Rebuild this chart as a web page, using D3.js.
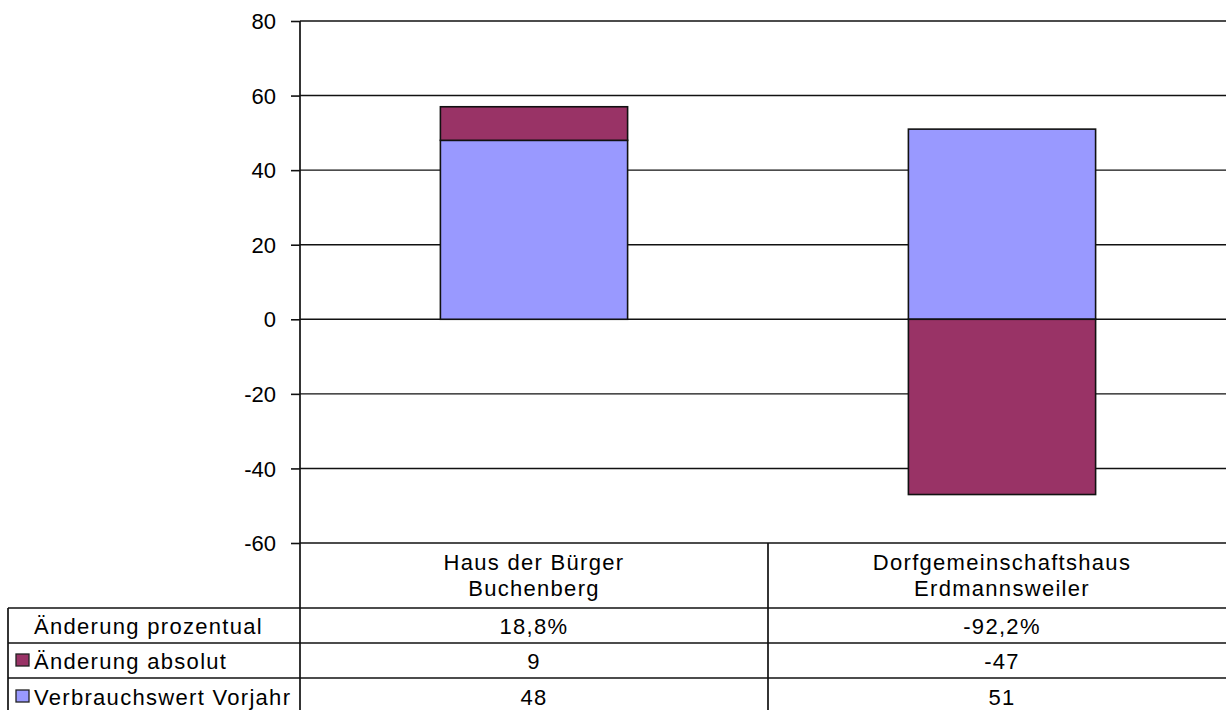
<!DOCTYPE html>
<html>
<head>
<meta charset="utf-8">
<script src="https://cdn.jsdelivr.net/npm/d3@7"></script>
<style>
  html, body { margin: 0; padding: 0; background: #fff; }
  svg { display: block; }
  text { font-family: "Liberation Sans", Arial, sans-serif; fill: #000; }
</style>
</head>
<body>
<svg id="chart" width="1226" height="710"></svg>
<script>
// Categories (two lines each in the table header)
const categories = ["Haus der Bürger\nBuchenberg", "Dorfgemeinschaftshaus\nErdmannsweiler"];
// Plotted series
const verbrauchVorjahr = [48, 51];
const aenderungAbsolut = [9, -47];
// Table-only series
const aenderungProzentual = ["18,8%", "-92,2%"];
// Axis ticks
const yTicks = [-60, -40, -20, 0, 20, 40, 60, 80];

const seriesNames = ["Verbrauchswert Vorjahr", "Änderung absolut"];
const seriesColors = ["#9999FF", "#993366"];

const W = 1226, H = 710;
const plot = { left: 300, right: 1236, top: 21, bottom: 543 };

const svg = d3.select("#chart");

const y = d3.scaleLinear().domain([-60, 80]).range([plot.bottom, plot.top]);
const x = d3.scaleBand().domain(categories).range([plot.left, plot.right]).paddingInner(0).paddingOuter(0);
const barW = x.bandwidth() / 2.5;

// Gridlines
svg.append("g").selectAll("line").data(yTicks).join("line")
  .attr("x1", plot.left).attr("x2", plot.right)
  .attr("y1", d => y(d)).attr("y2", d => y(d))
  .attr("stroke", "#111").attr("stroke-width", 1.4);

// Stacked bars (positive and negative parts stacked separately)
const rows = categories.map((c, i) => ({ cat: c, v: verbrauchVorjahr[i], a: aenderungAbsolut[i] }));
const stack = d3.stack().keys(["v", "a"]).offset(d3.stackOffsetDiverging);
const stacked = stack(rows);

const barsG = svg.append("g");
stacked.forEach((layer, si) => {
  barsG.selectAll(null).data(layer).join("rect")
    .attr("x", d => x(d.data.cat) + (x.bandwidth() - barW) / 2)
    .attr("width", barW)
    .attr("y", d => y(Math.max(d[0], d[1])))
    .attr("height", d => Math.abs(y(d[0]) - y(d[1])))
    .attr("fill", seriesColors[si])
    .attr("stroke", "#111").attr("stroke-width", 1.6);
});

// Y axis (plain hyphen for negative labels)
const yAxis = d3.axisLeft(y).tickValues(yTicks).tickSize(9).tickPadding(15).tickFormat(d => String(d));
const ag = svg.append("g").attr("transform", `translate(${plot.left},0)`).call(yAxis);
ag.select(".domain").remove();
ag.selectAll(".tick line").attr("stroke", "#111").attr("stroke-width", 1.6);
ag.selectAll(".tick text").style("font-size", "22px").style("font-family", "'Liberation Sans', Arial, sans-serif").attr("fill", "#000").attr("dy", "0.35em");

// Data table
const tableTop = plot.bottom;
const headerBottom = 608;
const rowLines = [608, 643, 678];
const tableBottom = 716;
const tableLeft = 8;

const tg = svg.append("g");
const line = (x1, y1, x2, y2) => tg.append("line")
  .attr("x1", x1).attr("y1", y1).attr("x2", x2).attr("y2", y2)
  .attr("stroke", "#111").attr("stroke-width", 1.7);

// Vertical axis line continues through the table
line(plot.left, plot.top, plot.left, tableBottom);
// Column dividers
categories.forEach(c => line(x(c) + x.bandwidth(), tableTop, x(c) + x.bandwidth(), tableBottom));
// Horizontal row lines
rowLines.forEach(yy => line(tableLeft, yy, plot.right, yy));
line(tableLeft, headerBottom, tableLeft, tableBottom);

const textStyle = sel => sel.style("font-size", "22px").style("letter-spacing", "1.3px");

// Header (category names)
categories.forEach(c => {
  const parts = c.split("\n");
  parts.forEach((p, k) => {
    tg.append("text").call(textStyle)
      .attr("x", x(c) + x.bandwidth() / 2).attr("y", 570 + k * 26)
      .attr("text-anchor", "middle").text(p);
  });
});

// Table rows
const tableRows = [
  { name: "Änderung prozentual", values: aenderungProzentual, color: null },
  { name: "Änderung absolut", values: aenderungAbsolut, color: seriesColors[1] },
  { name: "Verbrauchswert Vorjahr", values: verbrauchVorjahr, color: seriesColors[0] }
];
const baselines = [634, 669, 705];

tableRows.forEach((r, i) => {
  const by = baselines[i];
  if (r.color) {
    tg.append("rect").attr("x", 16).attr("y", by - 15).attr("width", 13).attr("height", 12)
      .attr("fill", r.color).attr("stroke", "#222").attr("stroke-width", 1.3);
  }
  tg.append("text").call(textStyle).attr("x", 34).attr("y", by).text(r.name);
  categories.forEach((c, j) => {
    tg.append("text").call(textStyle)
      .attr("x", x(c) + x.bandwidth() / 2).attr("y", by)
      .attr("text-anchor", "middle").text(r.values[j]);
  });
});
</script>
</body>
</html>
